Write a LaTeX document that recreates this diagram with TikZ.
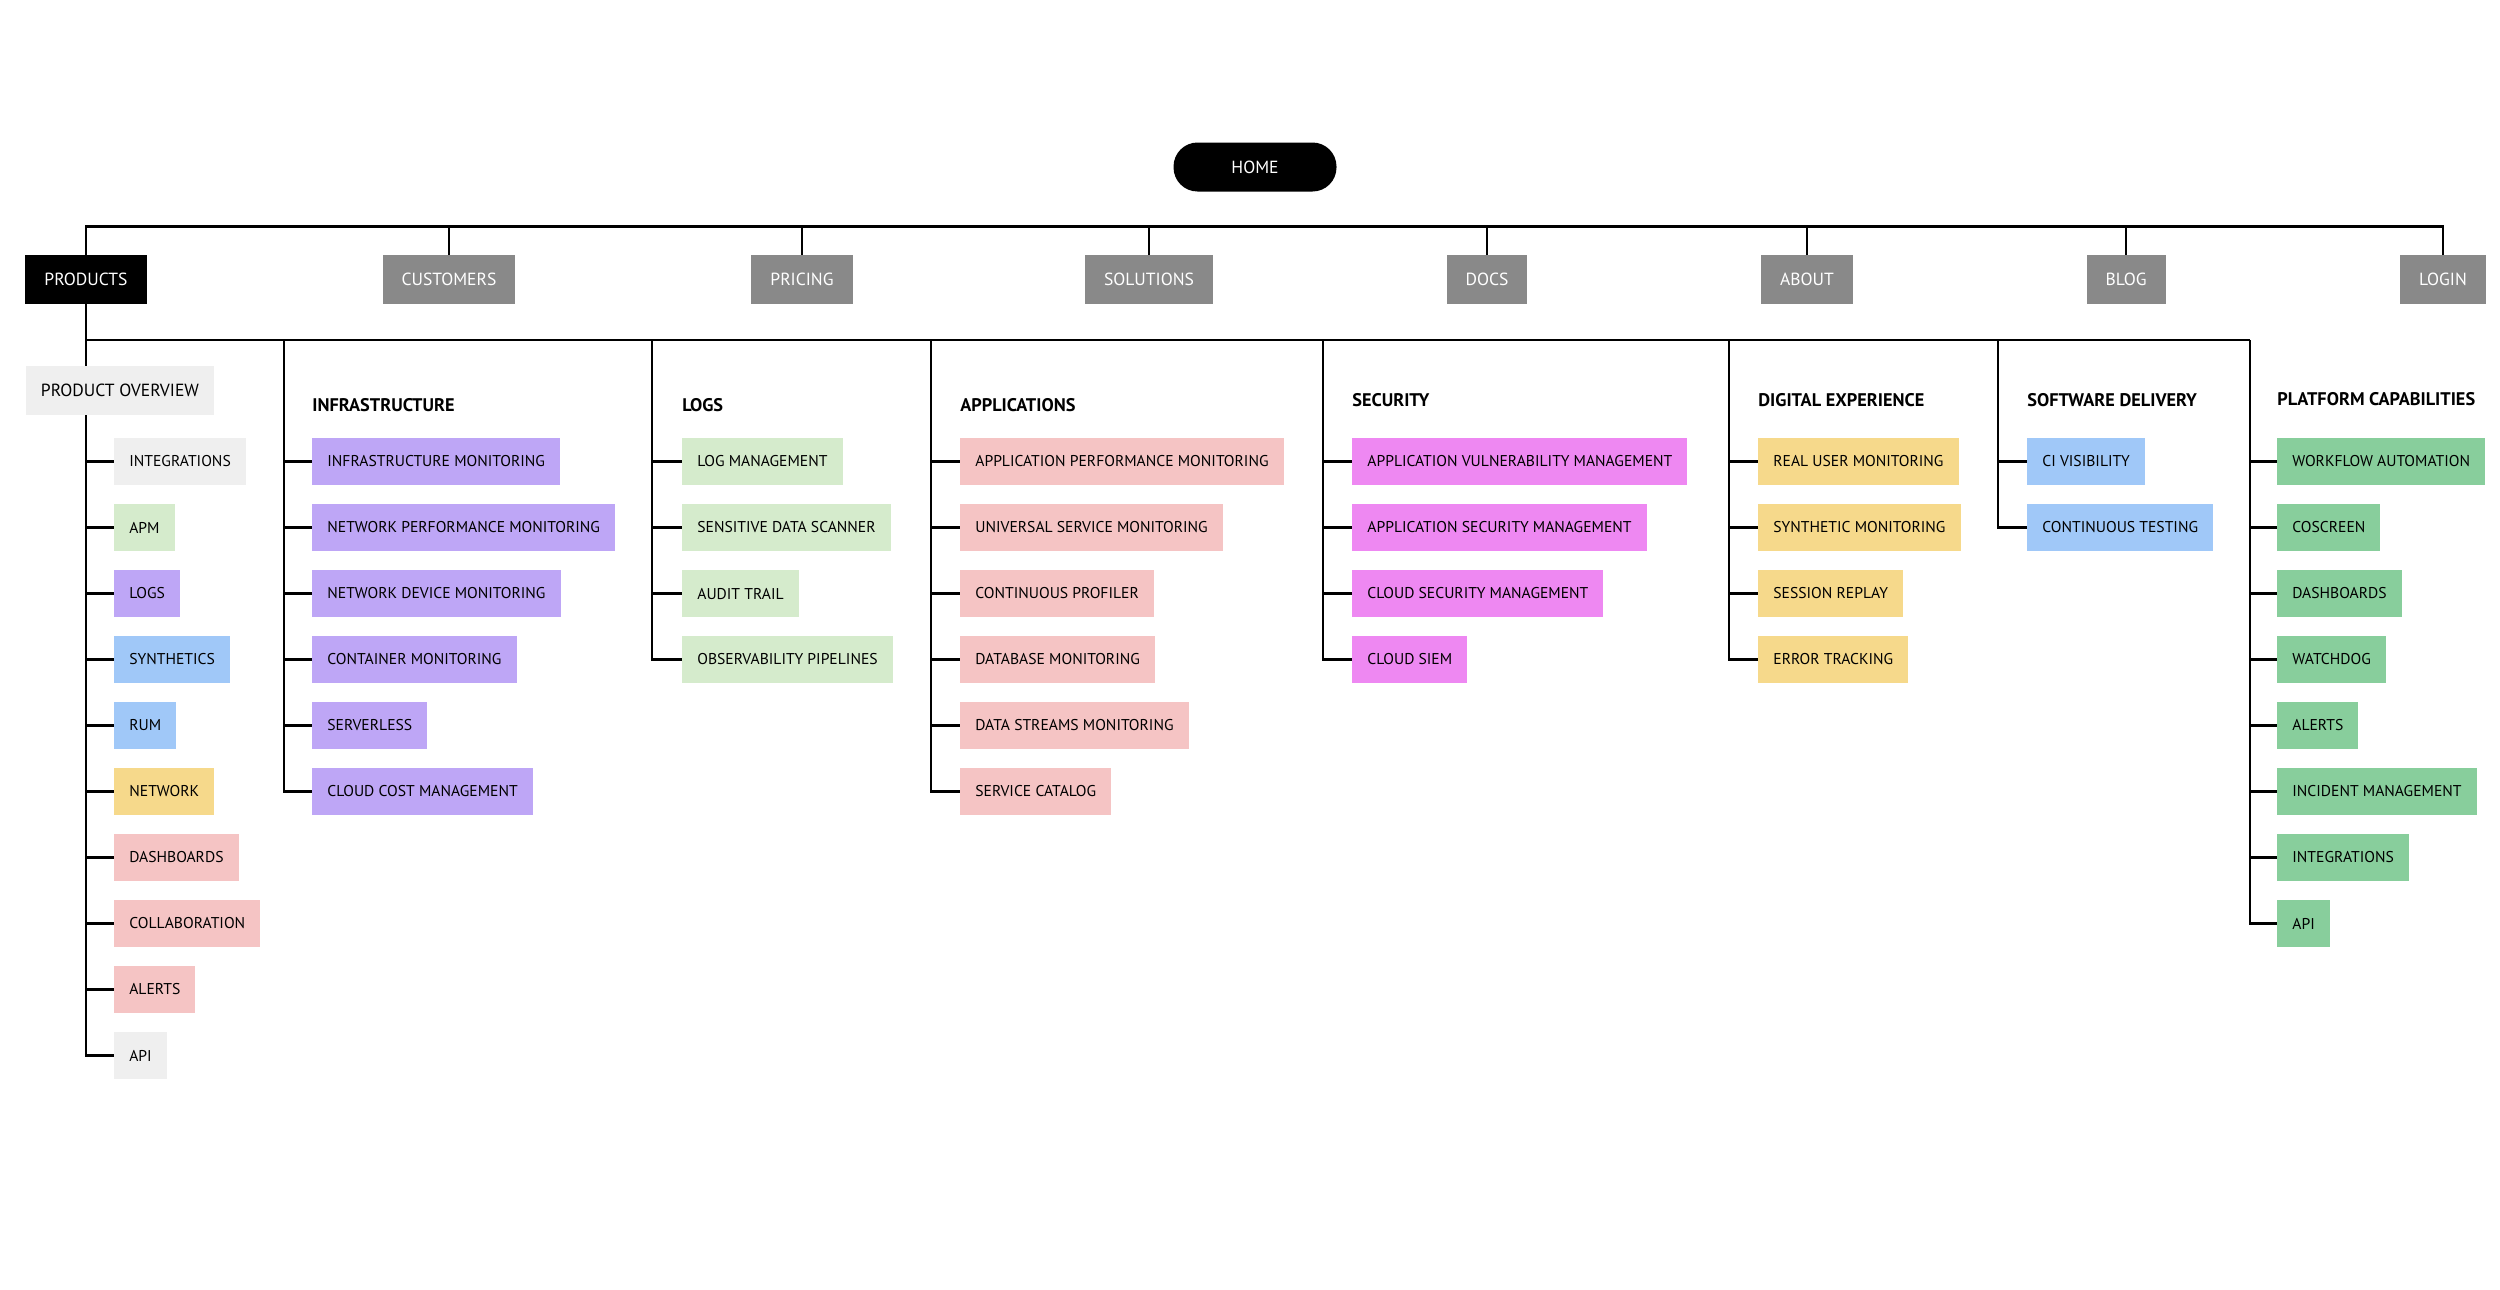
\documentclass[tikz,border=0pt]{standalone}
\usepackage{fontspec}
\setmainfont{PT Sans}
\usetikzlibrary{positioning,calc}
\definecolor{navgray}{HTML}{898989}
\definecolor{softgray}{HTML}{EFEFEF}
\definecolor{softgreen}{HTML}{D5EBCC}
\definecolor{lilac}{HTML}{BEA6F6}
\definecolor{skyblue}{HTML}{A0C8F8}
\definecolor{sand}{HTML}{F6D98B}
\definecolor{blush}{HTML}{F5C4C4}
\definecolor{orchid}{HTML}{EE88F2}
\definecolor{mint}{HTML}{88CE9C}
\tikzset{
    x=0.02cm,
    y=-0.02cm,
    home/.style = {
        fill=black,
        text=white,
        rounded corners=0.48cm,
        minimum width=3.26cm,
        minimum height=0.98cm,
        font=\fontsize{10}{12}\selectfont
    },
    navbox/.style = {
        fill=navgray,
        text=white,
        minimum height=0.98cm,
        inner xsep=0.38cm,
        font=\fontsize{10}{12}\selectfont
    },
    leaf/.style = {
        anchor=west,
        minimum height=0.94cm,
        inner xsep=0.3cm,
        inner ysep=0pt,
        font=\fontsize{8.9}{10}\selectfont
    },
    heading/.style = {
        anchor=west,
        inner sep=0pt,
        font=\bfseries\fontsize{10.4}{12}\selectfont
    },
    tree/.style = {
        draw,
        line width=0.048cm
    },
}
\begin{document}
\begin{tikzpicture}
    \useasboundingbox[fill=white] (0,0) rectangle (2500,1289);

    % top navigation
    \node[home] (home) at (1255,167) {HOME};
    \node[navbox, fill=black] (products) at (86,279.5) {PRODUCTS};
    \node[navbox] (customers) at (449,279.5) {CUSTOMERS};
    \node[navbox] (pricing) at (802,279.5) {PRICING};
    \node[navbox] (solutions) at (1149,279.5) {SOLUTIONS};
    \node[navbox] (docs) at (1487,279.5) {DOCS};
    \node[navbox] (about) at (1807,279.5) {ABOUT};
    \node[navbox] (blog) at (2126,279.5) {BLOG};
    \node[navbox] (login) at (2443,279.5) {LOGIN};

    \path[tree] (products.north) -- ++(0,-28) -| (login.north);
    \foreach \n in {customers,pricing,solutions,docs,about,blog}
        \path[tree] (\n.north) -- ++(0,-28);

    % product bus
    \coordinate (bus) at (86,340);
    \coordinate (infbus) at (284,340);
    \coordinate (logbus) at (652,340);
    \coordinate (appbus) at (931,340);
    \coordinate (secbus) at (1323,340);
    \coordinate (dexbus) at (1729,340);
    \coordinate (sdbus) at (1998,340);
    \coordinate (platbus) at (2250,340);
    \path[tree] (products.south) -- (bus) -- (platbus);

    % product overview
    \node[leaf, fill=softgray, font=\fontsize{10}{12}\selectfont, minimum height=0.98cm] (overview) at (25.6,390.5) {PRODUCT OVERVIEW};
    \path[tree] (bus) -- (bus |- overview.north);
    \foreach \t/\c [count=\i] in {INTEGRATIONS/softgray, APM/softgreen, LOGS/lilac, SYNTHETICS/skyblue, RUM/skyblue,
            NETWORK/sand, DASHBOARDS/blush, COLLABORATION/blush, ALERTS/blush, API/softgray} {
        \node[leaf, fill=\c] (po\i) at (114,395.5+66*\i) {\t};
        \path[tree] (bus |- overview.south) |- (po\i.west);
    }

    % infrastructure
    \node[heading] (infhead) at (312,405) {INFRASTRUCTURE};
    \foreach \t [count=\i] in {INFRASTRUCTURE MONITORING, NETWORK PERFORMANCE MONITORING, NETWORK DEVICE MONITORING,
            CONTAINER MONITORING, SERVERLESS, CLOUD COST MANAGEMENT} {
        \node[leaf, fill=lilac] (inf\i) at (312,395.5+66*\i) {\t};
        \path[tree] (infbus) |- (inf\i.west);
    }

    % logs
    \node[heading] (loghead) at (682,405) {LOGS};
    \foreach \t [count=\i] in {LOG MANAGEMENT, SENSITIVE DATA SCANNER, AUDIT TRAIL, OBSERVABILITY PIPELINES} {
        \node[leaf, fill=softgreen] (log\i) at (682,395.5+66*\i) {\t};
        \path[tree] (logbus) |- (log\i.west);
    }

    % applications
    \node[heading] (apphead) at (960,405) {APPLICATIONS};
    \foreach \t [count=\i] in {APPLICATION PERFORMANCE MONITORING, UNIVERSAL SERVICE MONITORING, CONTINUOUS PROFILER,
            DATABASE MONITORING, DATA STREAMS MONITORING, SERVICE CATALOG} {
        \node[leaf, fill=blush] (app\i) at (960,395.5+66*\i) {\t};
        \path[tree] (appbus) |- (app\i.west);
    }

    % security
    \node[heading] (sechead) at (1352,400) {SECURITY};
    \foreach \t [count=\i] in {APPLICATION VULNERABILITY MANAGEMENT, APPLICATION SECURITY MANAGEMENT,
            CLOUD SECURITY MANAGEMENT, CLOUD SIEM} {
        \node[leaf, fill=orchid] (sec\i) at (1352,395.5+66*\i) {\t};
        \path[tree] (secbus) |- (sec\i.west);
    }

    % digital experience
    \node[heading] (dexhead) at (1758,400) {DIGITAL EXPERIENCE};
    \foreach \t [count=\i] in {REAL USER MONITORING, SYNTHETIC MONITORING, SESSION REPLAY, ERROR TRACKING} {
        \node[leaf, fill=sand] (dex\i) at (1758,395.5+66*\i) {\t};
        \path[tree] (dexbus) |- (dex\i.west);
    }

    % software delivery
    \node[heading] (sdhead) at (2027,400) {SOFTWARE DELIVERY};
    \foreach \t [count=\i] in {CI VISIBILITY, CONTINUOUS TESTING} {
        \node[leaf, fill=skyblue] (sd\i) at (2027,395.5+66*\i) {\t};
        \path[tree] (sdbus) |- (sd\i.west);
    }

    % platform capabilities
    \node[heading] (plathead) at (2277,399) {PLATFORM CAPABILITIES};
    \foreach \t [count=\i] in {WORKFLOW AUTOMATION, COSCREEN, DASHBOARDS, WATCHDOG, ALERTS,
            INCIDENT MANAGEMENT, INTEGRATIONS, API} {
        \node[leaf, fill=mint] (plat\i) at (2277,395.5+66*\i) {\t};
        \path[tree] (platbus) |- (plat\i.west);
    }
\end{tikzpicture}
\end{document}
